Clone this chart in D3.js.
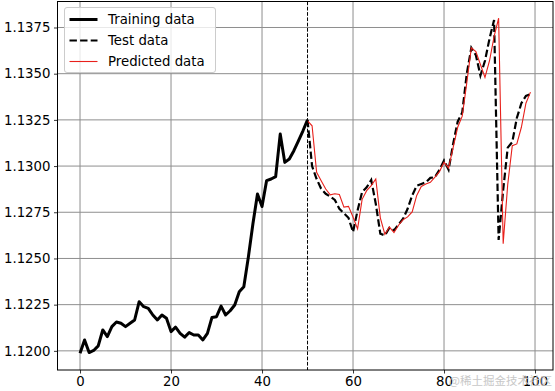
<!DOCTYPE html>
<html><head><meta charset="utf-8">
<script src="https://cdn.jsdelivr.net/npm/d3@7/dist/d3.min.js"></script>
<style>body{margin:0;background:#fff}svg{display:block;font-family:"DejaVu Sans",sans-serif}</style>
</head><body><svg id="c" width="555" height="391"></svg>
<script>
const trainValues = [1.11987,1.12059,1.11991,1.12002,1.12027,1.12113,1.12077,1.12131,1.12156,1.12149,
1.12131,1.12149,1.12167,1.12266,1.12239,1.12230,1.12194,1.12167,1.12194,1.12176,
1.12104,1.12128,1.12095,1.12074,1.12099,1.12086,1.12086,1.12059,1.12095,1.12181,
1.12185,1.12242,1.12194,1.12217,1.12248,1.12320,1.12347,1.12508,1.12688,1.12849,
1.12781,1.12921,1.12930,1.12943,1.13173,1.13020,1.13038,1.13083,1.13137,1.13191,1.13250];
const testValues = [1.13250,1.13000,1.12930,1.12877,1.12850,1.12835,1.12817,1.12769,1.12745,1.12720,
1.12643,1.12760,1.12860,1.12885,1.12925,1.12796,1.12634,1.12625,1.12666,1.12652,
1.12684,1.12715,1.12769,1.12841,1.12894,1.12903,1.12912,1.12936,1.12940,1.12980,
1.13030,1.12980,1.13120,1.13240,1.13290,1.13500,1.13640,1.13600,1.13490,1.13570,
1.13690,1.13790,1.12600,1.12870,1.13100,1.13130,1.13260,1.13340,1.13380,1.13390];
const predValues = [1.13245,1.13218,1.12966,1.12921,1.12876,1.12844,1.12850,1.12846,1.12778,1.12782,
1.12724,1.12660,1.12820,1.12867,1.12894,1.12930,1.12720,1.12630,1.12670,1.12640,
1.12680,1.12710,1.12725,1.12752,1.12841,1.12890,1.12903,1.12912,1.12940,1.12970,
1.13020,1.12990,1.13100,1.13210,1.13270,1.13450,1.13640,1.13620,1.13550,1.13480,
1.13570,1.13700,1.13800,1.12580,1.12900,1.13110,1.13120,1.13210,1.13340,1.13400];
const trainStart = 0, testStart = 50;
const splitX = 50;
const xTicks = [0,20,40,60,80,100];
const yTicks = [1.1200,1.1225,1.1250,1.1275,1.1300,1.1325,1.1350,1.1375];
const legendLabels = ["Training data","Test data","Predicted data"];

const train = trainValues.map((v,i)=>[trainStart+i,v]);
const test = testValues.map((v,i)=>[testStart+i,v]);
const pred = predValues.map((v,i)=>[testStart+i,v]);

const svg = d3.select("#c");
const L=57.5, R=553, T=1.5, B=370;
const xMin=0, xMax=99, xPad=(xMax-xMin)*0.05;
const all=[...trainValues,...testValues,...predValues];
const yLo=d3.min(all), yHi=d3.max(all), yPad=(yHi-yLo)*0.05;
const x=d3.scaleLinear().domain([xMin-xPad,xMax+xPad]).range([L,R]);
const y=d3.scaleLinear().domain([yLo-yPad,yHi+yPad]).range([B,T]);

// grid
const g=svg.append("g");
g.selectAll("line.gx").data(xTicks).join("line")
 .attr("x1",d=>x(d)).attr("x2",d=>x(d)).attr("y1",T).attr("y2",B)
 .attr("stroke","#8e8e8e").attr("stroke-width",1);
g.selectAll("line.gy").data(yTicks).join("line")
 .attr("y1",d=>y(d)).attr("y2",d=>y(d)).attr("x1",L).attr("x2",R)
 .attr("stroke","#8e8e8e").attr("stroke-width",1);

// axes
const xa=svg.append("g").attr("transform",`translate(0,${B})`)
 .call(d3.axisBottom(x).tickValues(xTicks).tickSize(3.5).tickPadding(3.5).tickFormat(d3.format("d")));
const ya=svg.append("g").attr("transform",`translate(${L},0)`)
 .call(d3.axisLeft(y).tickValues(yTicks).tickSize(3.5).tickPadding(3.5).tickFormat(d3.format(".4f")));
[xa,ya].forEach(a=>{a.select(".domain").remove();
 a.selectAll("text").attr("font-size","13.3px").attr("fill","#000").attr("font-family","DejaVu Sans");
 a.selectAll("line").attr("stroke","#000").attr("stroke-width",0.8);});

const line=d3.line().x(d=>x(d[0])).y(d=>y(d[1]));
svg.append("path").datum(train).attr("d",line).attr("fill","none")
 .attr("stroke","#000").attr("stroke-width",3).attr("stroke-linejoin","round");
svg.append("path").datum(test).attr("d",line).attr("fill","none")
 .attr("stroke","#000").attr("stroke-width",2.2).attr("stroke-dasharray","7.4,3.2");
svg.append("path").datum(pred).attr("d",line).attr("fill","none")
 .attr("stroke","#e8201b").attr("stroke-width",1.1);
svg.append("line").attr("x1",x(splitX)).attr("x2",x(splitX)).attr("y1",T).attr("y2",B)
 .attr("stroke","#000").attr("stroke-width",1).attr("stroke-dasharray","3.7,1.6");

// frame
svg.append("rect").attr("x",L).attr("y",T).attr("width",R-L).attr("height",B-T)
 .attr("fill","none").attr("stroke","#000").attr("stroke-width",1);

// legend
const lg=svg.append("g");
lg.append("rect").attr("x",64.5).attr("y",7.5).attr("width",151).attr("height",65).attr("rx",2.5)
 .attr("fill","#fff").attr("fill-opacity",0.8).attr("stroke","#cccccc").attr("stroke-width",1);
const styles=[{c:"#000",w:3,d:null},{c:"#000",w:2.2,d:"7.4,3.2"},{c:"#e8201b",w:1.1,d:null}];
legendLabels.forEach((t,i)=>{
 const yy=19.5+i*21;
 const ln=lg.append("line").attr("x1",69.5).attr("x2",97.5).attr("y1",yy).attr("y2",yy)
  .attr("stroke",styles[i].c).attr("stroke-width",styles[i].w);
 if(styles[i].d) ln.attr("stroke-dasharray",styles[i].d);
 lg.append("text").attr("x",108).attr("y",yy).attr("dy","0.35em").attr("font-size","13.3px").text(t);
});

// watermark
svg.append("text").attr("x",552).attr("y",385).attr("text-anchor","end")
 .attr("font-family","Noto Sans CJK SC").attr("font-size","11.5px").attr("fill","#c8c8c8").text("@稀土掘金技术社区");
</script></body></html>
